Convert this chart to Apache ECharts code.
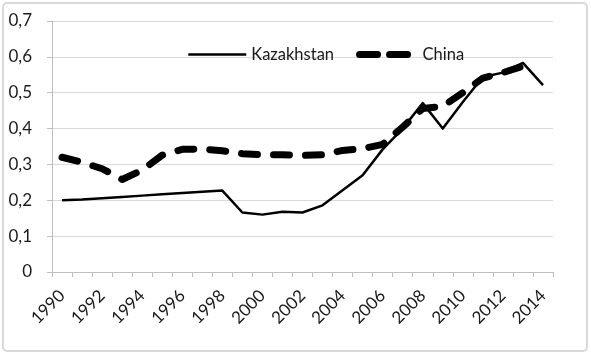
<!DOCTYPE html>
<html><head><meta charset="utf-8">
<script src="https://cdn.jsdelivr.net/npm/echarts@6/dist/echarts.min.js"></script>
<style>html,body{margin:0;padding:0;background:#fff}#c{width:591px;height:355px}</style>
</head><body><div id="c"></div>
<script>
const years = ['1990','1991','1992','1993','1994','1995','1996','1997','1998','1999','2000','2001','2002','2003','2004','2005','2006','2007','2008','2009','2010','2011','2012','2013','2014'];
const kazakhstan = [0.200,0.202,0.206,0.209,0.213,0.217,0.220,0.224,0.227,0.166,0.160,0.168,0.166,0.186,0.228,0.270,0.342,0.400,0.471,0.400,0.474,0.544,0.556,0.583,0.521];
const china = [0.320,0.306,0.288,0.258,0.284,0.326,0.342,0.343,0.338,0.330,0.327,0.327,0.325,0.327,0.339,0.344,0.356,0.404,0.456,0.462,0.500,0.541,0.556,0.574,null];
const yTicks = [0,0.1,0.2,0.3,0.4,0.5,0.6,0.7];

const chart = echarts.init(document.getElementById('c'));
const font = 'Lato';
chart.setOption({
  animation: false,
  textStyle: {fontFamily: font},
  graphic: [{type:'rect', shape:{x:3,y:3,width:584,height:348,r:4}, style:{fill:'none',stroke:'#d9d9d9',lineWidth:2}, silent:true}],
  legend: {
    left: 182, top: 41, itemWidth: 58, itemHeight: 14, itemGap: 22,
    itemStyle: {opacity: 0, borderWidth: 0},
    textStyle: {fontFamily: font, fontSize: 16.5, color: '#1a1a1a'},
    data: [
      {name: 'Kazakhstan', lineStyle: {width: 2.5, color: '#000'}},
      {name: 'China', lineStyle: {width: 7, color: '#000', type: [18, 12], cap: 'round'}}
    ]
  },
  grid: {left: 52, right: 38, top: 21, bottom: 83},
  xAxis: {
    type: 'category', data: years, boundaryGap: true,
    axisLine: {lineStyle: {color: '#bfbfbf', width: 1}},
    axisTick: {show: true, interval: 0, length: 5, lineStyle: {color: '#bfbfbf'}},
    axisLabel: {interval: 1, rotate: 45, margin: 21, fontFamily: font, fontSize: 17, color: '#1a1a1a'},
    splitLine: {show: false}
  },
  yAxis: {
    type: 'value', min: 0, max: 0.7, interval: 0.1,
    axisLine: {show: true, lineStyle: {color: '#bfbfbf', width: 1}},
    axisTick: {show: true, length: 5, lineStyle: {color: '#bfbfbf'}},
    axisLabel: {margin: 20, fontFamily: font, fontSize: 17, color: '#1a1a1a',
      formatter: v => { const t = yTicks.find(x => Math.abs(x - v) < 1e-9); return (t === 0 ? '0' : String(+t.toFixed(1)).replace('.', ',')); }},
    splitLine: {lineStyle: {color: '#d9d9d9', width: 1}}
  },
  series: [
    {name: 'Kazakhstan', type: 'line', data: kazakhstan, symbol: 'none', showSymbol: false,
      itemStyle: {color: '#000'},
      lineStyle: {color: '#000', width: 2.5, join: 'round'}},
    {name: 'China', type: 'line', data: china, symbol: 'none', showSymbol: false, connectNulls: false,
      itemStyle: {color: '#000'},
      lineStyle: {color: '#000', width: 7, type: [16, 16], cap: 'round', join: 'round'}}
  ]
});
</script></body></html>
